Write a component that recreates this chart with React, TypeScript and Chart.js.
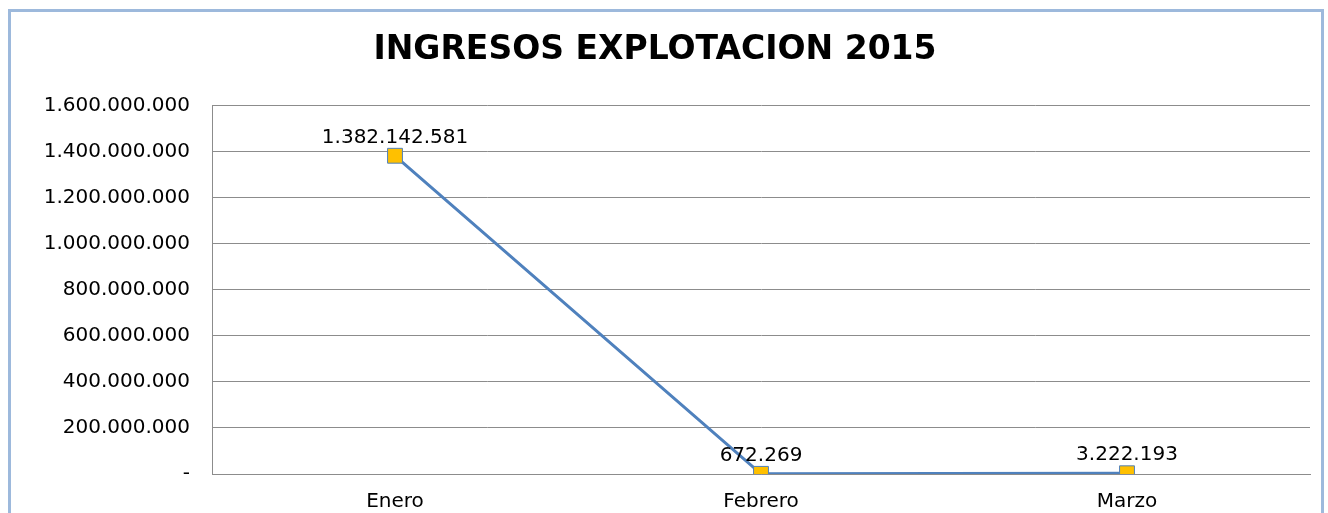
import React, { useEffect, useRef } from "react";
import { Chart, registerables } from "chart.js";

Chart.register(...registerables);

const TITLE = "INGRESOS EXPLOTACION 2015";
const categories = ["Enero", "Febrero", "Marzo"];
const ingresos = [1382142581, 672269, 3222193];
const yMin = 0;
const yMax = 1600000000;
const yStep = 200000000;

const FONT = "'DejaVu Sans', sans-serif";

function fmt(v: number): string {
  if (v === 0) return "-";
  return String(Math.round(v)).replace(/\B(?=(\d{3})+(?!\d))/g, ".");
}

const framePlugin = {
  id: "frame",
  beforeDraw(chart: any) {
    const ctx = chart.ctx;
    ctx.save();
    ctx.fillStyle = "#ffffff";
    ctx.fillRect(0, 0, chart.width, chart.height);
    ctx.strokeStyle = "#9DB9DC";
    ctx.lineWidth = 3;
    ctx.strokeRect(9.5, 10.5, 1313, 600);
    ctx.restore();
  },
};

const labelsPlugin = {
  id: "pointLabels",
  afterDatasetsDraw(chart: any) {
    const ctx = chart.ctx;
    const meta = chart.getDatasetMeta(0);
    const data = chart.data.datasets[0].data as number[];
    ctx.save();
    ctx.font = `20px ${FONT}`;
    ctx.fillStyle = "#000000";
    ctx.textAlign = "center";
    ctx.textBaseline = "middle";
    meta.data.forEach((pt: any, i: number) => {
      ctx.fillText(fmt(data[i]), pt.x, pt.y - 18);
    });
    ctx.restore();
  },
};

export default function App() {
  const ref = useRef<HTMLCanvasElement | null>(null);
  useEffect(() => {
    if (!ref.current) return;
    const chart = new Chart(ref.current, {
      type: "line",
      data: {
        labels: categories,
        datasets: [
          {
            label: "Ingresos",
            data: ingresos,
            borderColor: "#4F81BD",
            borderWidth: 3,
            pointStyle: "rect",
            pointRadius: 10.5,
            pointBackgroundColor: "#FFC000",
            pointBorderColor: "#4F81BD",
            pointBorderWidth: 1,
            tension: 0,
          },
        ],
      },
      options: {
        animation: false,
        responsive: true,
        maintainAspectRatio: false,
        layout: { padding: { top: 0, left: 0, right: 18, bottom: 0 } },
        plugins: {
          legend: { display: false },
          tooltip: { enabled: false },
          title: {
            display: true,
            text: TITLE,
            color: "#000000",
            font: { family: FONT, size: 33, weight: "bold", lineHeight: 1.2 },
            padding: { top: 31, bottom: 35 },
          },
        },
        scales: {
          x: {
            offset: true,
            grid: { display: false, drawTicks: false },
            border: { display: true, color: "#8C8C8C", width: 1 },
            ticks: { color: "#000000", font: { family: FONT, size: 20 }, padding: 16 },
            afterFit(scale: any) {
              scale.height = 39;
            },
          },
          y: {
            min: yMin,
            max: yMax,
            grid: { color: "#8C8C8C", lineWidth: 1, drawTicks: false },
            border: { display: true, color: "#8C8C8C", width: 1 },
            ticks: {
              stepSize: yStep,
              color: "#000000",
              font: { family: FONT, size: 20 },
              padding: 22,
              callback: (v: any) => fmt(Number(v)),
            },
            afterFit(scale: any) {
              scale.width = 212;
            },
          },
        },
      },
      plugins: [framePlugin, labelsPlugin],
    });
    return () => chart.destroy();
  }, []);
  return (
    <div style={{ position: "absolute", left: 0, top: 0, width: 1328, height: 513 }}>
      <canvas ref={ref} />
    </div>
  );
}
